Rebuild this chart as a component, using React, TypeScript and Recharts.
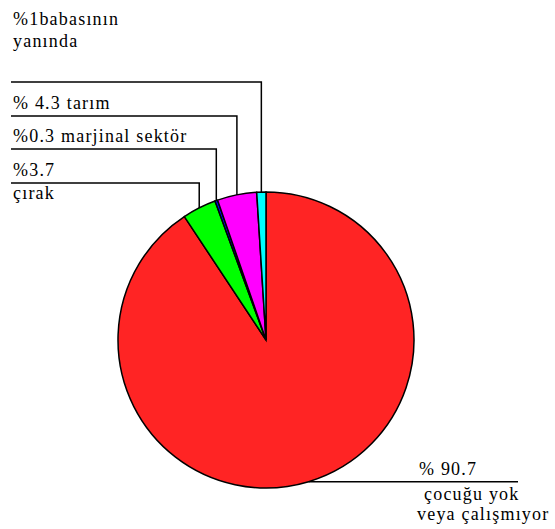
import React from 'react';
import { PieChart, Pie, Cell } from 'recharts';

const categories = ['çocuğu yok veya çalışmıyor', 'çırak', 'marjinal sektör', 'tarım', 'babasının yanında'];
const values = [90.7, 3.7, 0.3, 4.3, 1];
const labelTexts = [
  ['% 90.7', 'çocuğu yok', 'veya çalışmıyor'],
  ['%3.7', 'çırak'],
  ['%0.3 marjinal sektör'],
  ['% 4.3 tarım'],
  ['%1babasının', 'yanında'],
];
const colors = ['#ff2424', '#00ff00', '#0000ff', '#ff00ff', '#00ffff'];

// layout constants for the leader lines / label text
const elbowY = [0, 183, 149, 116, 82];
const textX = [[419, 424, 417], [13, 13], [13], [13], [13, 13]];
const textY = [[475, 500, 520], [176, 199], [142], [109], [25, 47]];

const data = categories.map((name, i) => ({ name, value: values[i] }));

const RADIAN = Math.PI / 180;
const FONT = "'Liberation Serif', 'Times New Roman', 'DejaVu Serif', serif";

const renderLabel = (props: any) => {
  const { cx, cy, midAngle, outerRadius, index } = props;
  const px = cx + outerRadius * Math.cos(-midAngle * RADIAN);
  const py = cy + outerRadius * Math.sin(-midAngle * RADIAN);
  const lines = labelTexts[index];
  let path: string;
  if (index === 0) {
    path = `M${px},${py} L518,${py}`;
  } else {
    path = `M${px},${py} L${px},${elbowY[index]} L11,${elbowY[index]}`;
  }
  return (
    <g key={`lbl-${index}`}>
      <path d={path} stroke="#000" strokeWidth={1.5} fill="none" />
      {lines.map((t, j) => (
        <text
          key={j}
          x={textX[index][j]}
          y={textY[index][j]}
          fill="#000"
          style={{ fontFamily: FONT, fontSize: 18, letterSpacing: 1.2 }}
          textAnchor="start"
        >
          {t}
        </text>
      ))}
    </g>
  );
};

export default function App() {
  return (
    <div style={{ position: 'absolute', left: 0, top: 0, background: '#fff' }}>
      <PieChart width={555} height={529} margin={{ top: 0, right: 0, bottom: 0, left: 0 }}>
        <Pie
          data={data}
          dataKey="value"
          nameKey="name"
          cx={266}
          cy={340}
          outerRadius={148}
          startAngle={90}
          endAngle={-270}
          stroke="#000"
          strokeWidth={1.5}
          label={renderLabel}
          labelLine={false}
          isAnimationActive={false}
        >
          {data.map((d, i) => (
            <Cell key={d.name} fill={colors[i]} />
          ))}
        </Pie>
      </PieChart>
    </div>
  );
}
